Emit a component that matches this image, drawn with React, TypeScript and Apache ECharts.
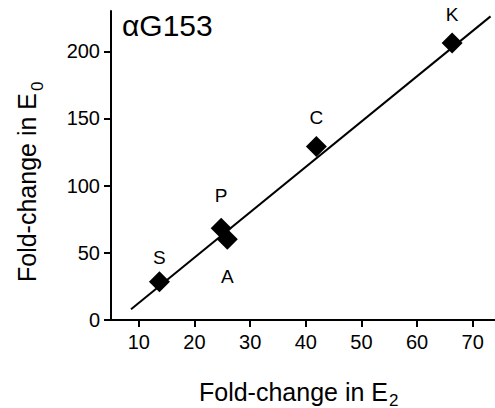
import React, { useEffect, useRef } from "react";
import * as echarts from "echarts";

const pointNames = ["S", "P", "A", "C", "K"];
const xValues = [13.7, 24.8, 25.9, 41.9, 66.3];
const yValues = [28.5, 68.3, 60.1, 129.1, 206.2];
const fitLineX = [8.6, 73.2];
const fitLineY = [8, 226];
const xTicks = [10, 20, 30, 40, 50, 60, 70];
const yTicks = [0, 50, 100, 150, 200];

const labelPlacement: Record<string, { position: string; distance: number }> = {
  S: { position: "top", distance: 4 },
  P: { position: "top", distance: 13 },
  A: { position: "bottom", distance: 17 },
  C: { position: "top", distance: 9 },
  K: { position: "top", distance: 8 },
};

const FONT = "'Liberation Sans', Arial, sans-serif";

export default function App() {
  const ref = useRef<HTMLDivElement>(null);
  useEffect(() => {
    if (!ref.current) return;
    const chart = echarts.init(ref.current, undefined, { renderer: "svg" });
    const pts = pointNames.map((n, i) => ({
      value: [xValues[i], yValues[i]],
      name: n,
      label: {
        show: true,
        formatter: n,
        position: labelPlacement[n].position,
        distance: labelPlacement[n].distance,
        fontSize: 19,
        color: "#000",
        opacity: 1,
        fontFamily: FONT,
      },
    }));
    const txt = (fontSize: number) => ({ fill: "#000", fontFamily: FONT, fontSize });
    chart.setOption({
      animation: false,
      backgroundColor: "#fff",
      grid: { left: 111, right: 0, top: 11, bottom: 88, containLabel: false },
      xAxis: {
        type: "value",
        min: 5,
        max: 74,
        splitLine: { show: false },
        axisLine: { show: true, onZero: false, lineStyle: { color: "#000", width: 2 } },
        axisTick: { show: true, length: 7, customValues: xTicks, lineStyle: { color: "#000", width: 2 } },
        axisLabel: { customValues: xTicks, fontSize: 20, color: "#000", fontFamily: FONT, margin: 12 },
      },
      yAxis: {
        type: "value",
        min: 0,
        max: 230,
        splitLine: { show: false },
        axisLine: { show: true, onZero: false, lineStyle: { color: "#000", width: 2 } },
        axisTick: { show: true, length: 7, customValues: yTicks, lineStyle: { color: "#000", width: 2 } },
        axisLabel: { customValues: yTicks, fontSize: 20, color: "#000", fontFamily: FONT, margin: 11 },
      },
      graphic: [
        {
          type: "text",
          x: 122,
          y: 25,
          style: { ...txt(30), text: "αG153", align: "left", verticalAlign: "middle" },
        },
        {
          type: "text",
          x: 388,
          y: 391.5,
          style: { ...txt(25), text: "Fold-change in E", align: "right", verticalAlign: "middle" },
        },
        {
          type: "text",
          x: 389,
          y: 400,
          style: { ...txt(17), text: "2", align: "left", verticalAlign: "middle" },
        },
        {
          type: "text",
          x: 27,
          y: 93,
          rotation: Math.PI / 2,
          style: { ...txt(25), text: "Fold-change in E", align: "right", verticalAlign: "middle" },
        },
        {
          type: "text",
          x: 37,
          y: 91,
          rotation: Math.PI / 2,
          style: { ...txt(17), text: "0", align: "left", verticalAlign: "middle" },
        },
      ],
      series: [
        {
          type: "line",
          data: fitLineX.map((x, i) => [x, fitLineY[i]]),
          symbol: "none",
          lineStyle: { color: "#000", width: 2 },
          z: 1,
        },
        {
          type: "scatter",
          data: pts,
          symbol: "diamond",
          symbolSize: 21,
          itemStyle: { color: "#000", opacity: 1 },
          z: 2,
        },
      ],
    });
    return () => chart.dispose();
  }, []);
  return <div ref={ref} style={{ position: "fixed", left: 0, top: 0, width: 495, height: 408 }} />;
}
